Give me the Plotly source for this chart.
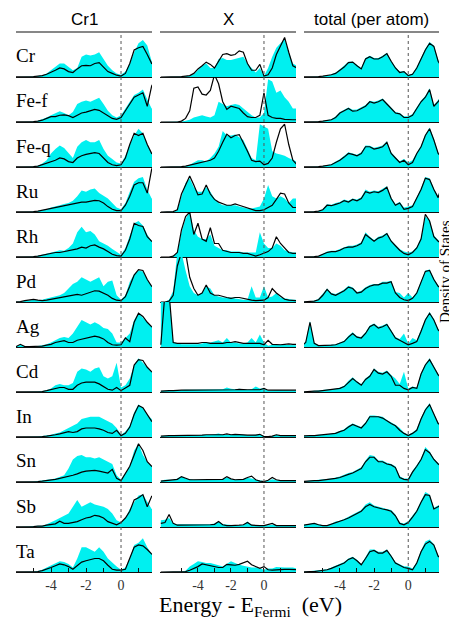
import plotly.graph_objects as go

# ---------------- data ----------------
energy = [-6.25, -6.0, -5.75, -5.5, -5.25, -5.0, -4.75, -4.5, -4.25, -4.0, -3.75, -3.5,
          -3.25, -3.0, -2.75, -2.5, -2.25, -2.0, -1.75, -1.5, -1.25, -1.0, -0.75, -0.5,
          -0.25, 0.0, 0.25, 0.5, 0.75, 1.0, 1.25, 1.5, 1.75, 2.0]

row_labels = ["Cr", "Fe-f", "Fe-q", "Ru", "Rh", "Pd", "Ag", "Cd", "In", "Sn", "Sb", "Ta"]
col_titles = ["Cr1", "X", "total (per atom)"]
tick_values = [-5, -4, -3, -2, -1, 0, 1]
tick_labels = ["", "-4", "", "-2", "", "0", ""]

# --- column Cr1 (cyan fill / black line) ---
cr1_fill_Cr = [0, 0,0,0,0, 0.01,0.02,0.04,0.08, 0.15,0.22,0.3,0.3, 0.22,0.15,0.2,0.45, 0.5,0.48,0.5,0.55, 0.4,0.25,0.15,0.08, 0.05,0.12,0.3,0.55, 0.75,0.82,0.7,0.35, 0.3]
cr1_line_Cr = [0, 0,0,0,0, 0.01,0.02,0.03,0.06, 0.1,0.15,0.2,0.18, 0.12,0.1,0.18,0.25, 0.26,0.25,0.3,0.32, 0.22,0.12,0.08,0.04, 0.02,0.08,0.3,0.6, 0.65,0.68,0.5,0.3, 0.25]
cr1_fill_Fef = [0, 0,0,0,0, 0.01,0.03,0.06,0.1, 0.15,0.2,0.24,0.2, 0.15,0.22,0.4,0.45, 0.48,0.45,0.5,0.54, 0.4,0.25,0.15,0.1, 0.15,0.3,0.45,0.6, 0.65,0.72,0.5,0.3, 0.3]
cr1_line_Fef = [0, 0,0,0,0, 0.01,0.02,0.04,0.08, 0.12,0.12,0.15,0.16, 0.14,0.1,0.15,0.2, 0.22,0.25,0.28,0.26, 0.2,0.15,0.08,0.06, 0.1,0.25,0.4,0.55, 0.6,0.65,0.35,0.8, 0.95]
cr1_fill_Feq = [0, 0,0,0,0, 0.01,0.03,0.08,0.15, 0.3,0.4,0.48,0.42, 0.3,0.2,0.45,0.55, 0.6,0.55,0.55,0.6, 0.4,0.25,0.18,0.1, 0.08,0.25,0.5,0.7, 0.85,0.75,0.5,0.3, 0.25]
cr1_line_Feq = [0, 0,0,0,0, 0.01,0.02,0.05,0.08, 0.12,0.15,0.2,0.18, 0.12,0.1,0.2,0.25, 0.28,0.3,0.32,0.3, 0.2,0.1,0.05,0.03, 0.05,0.2,0.5,0.75, 0.7,0.75,0.5,0.3, 0.25]
cr1_fill_Ru = [0, 0,0,0,0, 0.01,0.02,0.04,0.06, 0.1,0.12,0.15,0.18, 0.2,0.25,0.35,0.48, 0.45,0.5,0.52,0.42, 0.35,0.3,0.2,0.1, 0.06,0.2,0.45,0.67, 0.75,0.78,0.5,0.3, 0.3]
cr1_line_Ru = [0, 0,0,0,0, 0.01,0.02,0.04,0.06, 0.08,0.1,0.12,0.14, 0.15,0.18,0.2,0.22, 0.22,0.24,0.26,0.25, 0.2,0.12,0.06,0.03, 0.03,0.15,0.35,0.6, 0.65,0.65,0.42,0.95, 1.1]
cr1_fill_Rh = [0, 0,0,0,0, 0.01,0.03,0.05,0.07, 0.1,0.12,0.15,0.14, 0.2,0.3,0.55,0.67, 0.55,0.58,0.5,0.35, 0.3,0.25,0.18,0.12, 0.05,0.2,0.5,0.75, 0.8,0.7,0.5,0.35, 0.3]
cr1_line_Rh = [0, 0,0,0,0, 0.01,0.02,0.04,0.06, 0.08,0.1,0.1,0.12, 0.13,0.15,0.18,0.22, 0.2,0.25,0.27,0.22, 0.18,0.12,0.06,0.03, 0.02,0.15,0.4,0.75, 0.7,0.68,0.45,0.35, 0.3]
cr1_fill_Pd = [0, 0,0.01,0.02,0.04, 0.05,0.04,0.05,0.08, 0.1,0.12,0.15,0.2, 0.3,0.4,0.45,0.55, 0.5,0.45,0.5,0.55, 0.35,0.45,0.48,0.15, 0.05,0.15,0.45,0.62, 0.7,0.68,0.5,0.35, 0.3]
cr1_line_Pd = [0, 0,0.01,0.03,0.04, 0.06,0.04,0.03,0.04, 0.06,0.08,0.1,0.12, 0.14,0.15,0.17,0.15, 0.18,0.22,0.25,0.24, 0.2,0.15,0.08,0.04, 0.03,0.12,0.35,0.6, 0.72,0.7,0.5,0.35, 0.3]
cr1_fill_Ag = [0, 0.01,0.05,0.02,0.01, 0.01,0.02,0.04,0.06, 0.1,0.15,0.2,0.22, 0.2,0.3,0.45,0.6, 0.55,0.5,0.55,0.5, 0.42,0.4,0.3,0.1, 0.1,0.2,0.3,0.6, 0.75,0.65,0.55,0.45, 0.4]
cr1_line_Ag = [0, 0.01,0.06,0.01,0.01, 0.01,0.01,0.02,0.04, 0.06,0.1,0.12,0.14, 0.1,0.1,0.15,0.17, 0.2,0.22,0.24,0.22, 0.18,0.1,0.05,0.04, 0.05,0.2,0.12,0.55, 0.75,0.68,0.55,0.45, 0.4]
cr1_fill_Cd = [0, 0,0,0,0, 0.01,0.01,0.02,0.04, 0.08,0.15,0.18,0.15, 0.15,0.2,0.45,0.52, 0.5,0.45,0.52,0.55, 0.35,0.3,0.35,0.65, 0.1,0.15,0.3,0.6, 0.75,0.65,0.55,0.45, 0.4]
cr1_line_Cd = [0, 0,0,0,0, 0.01,0.01,0.01,0.03, 0.05,0.08,0.1,0.1, 0.06,0.06,0.15,0.2, 0.22,0.22,0.22,0.18, 0.12,0.06,0.04,0.1, 0.03,0.1,0.15,0.6, 0.72,0.7,0.55,0.45, 0.4]
cr1_fill_In = [0, 0,0,0,0, 0.01,0.01,0.02,0.03, 0.05,0.08,0.1,0.15, 0.2,0.25,0.3,0.4, 0.42,0.45,0.45,0.45, 0.4,0.35,0.3,0.2, 0.05,0.12,0.25,0.55, 0.72,0.65,0.5,0.4, 0.35]
cr1_line_In = [0, 0,0,0,0, 0.01,0.01,0.01,0.02, 0.03,0.05,0.07,0.1, 0.12,0.1,0.12,0.18, 0.2,0.2,0.2,0.18, 0.15,0.1,0.08,0.15, 0.03,0.08,0.22,0.5, 0.7,0.65,0.5,0.35, 0.3]
cr1_fill_Sn = [0, 0,0,0,0, 0.01,0.02,0.03,0.05, 0.06,0.08,0.12,0.15, 0.3,0.5,0.58,0.6, 0.55,0.55,0.52,0.55, 0.5,0.45,0.4,0.15, 0.05,0.2,0.35,0.7, 0.85,0.6,0.45,0.35, 0.3]
cr1_line_Sn = [0, 0,0,0,0, 0.01,0.01,0.02,0.03, 0.05,0.06,0.08,0.1, 0.12,0.15,0.18,0.22, 0.24,0.25,0.26,0.24, 0.22,0.2,0.28,0.08, 0.03,0.2,0.35,0.6, 0.85,0.7,0.45,0.35, 0.3]
cr1_fill_Sb = [0, 0,0,0.01,0.01, 0.02,0.03,0.03,0.06, 0.1,0.15,0.2,0.25, 0.3,0.45,0.6,0.45, 0.5,0.55,0.5,0.48, 0.45,0.4,0.3,0.15, 0.1,0.2,0.4,0.55, 0.7,0.72,0.55,0.4, 0.4]
cr1_line_Sb = [0, 0,0,0.01,0.01, 0.01,0.02,0.02,0.04, 0.05,0.07,0.13,0.08, 0.08,0.1,0.12,0.16, 0.2,0.22,0.26,0.24, 0.2,0.12,0.08,0.05, 0.1,0.2,0.35,0.6, 0.65,0.72,0.45,0.68, 0.75]
cr1_fill_Ta = [0, 0,0,0,0, 0.01,0.02,0.05,0.1, 0.15,0.2,0.24,0.22, 0.18,0.1,0.3,0.55, 0.55,0.5,0.45,0.55, 0.45,0.3,0.2,0.12, 0.05,0.1,0.3,0.6, 0.65,0.75,0.55,0.4, 0.35]
cr1_line_Ta = [0, 0,0,0,0, 0.01,0.01,0.03,0.06, 0.1,0.14,0.18,0.16, 0.12,0.06,0.15,0.22, 0.25,0.28,0.3,0.3, 0.25,0.15,0.06,0.04, 0.04,0.06,0.3,0.55, 0.6,0.58,0.5,0.4, 0.35]

# --- column X ---
x_fill_Cr = [0, 0,0,0,0, 0.01,0.02,0.03,0.06, 0.15,0.25,0.3,0.2, 0.2,0.4,0.42,0.38, 0.38,0.4,0.42,0.45, 0.3,0.2,0.1,0.2, 0.02,0.2,0.45,0.65, 0.75,0.85,0.55,0.3, 0.25]
x_line_Cr = [0, 0,0,0,0, 0.01,0.02,0.03,0.08, 0.18,0.25,0.33,0.28, 0.2,0.35,0.5,0.52, 0.48,0.5,0.58,0.55, 0.3,0.15,0.15,0.28, 0.02,0.05,0.2,0.5, 0.7,0.88,0.55,0.25, 0.2]
x_fill_Fef = [0, 0,0,0,0, 0.01,0.03,0.05,0.1, 0.13,0.15,0.12,0.1, 0.15,0.45,0.4,0.35, 0.38,0.4,0.38,0.3, 0.22,0.15,0.1,0.1, 0.2,0.95,0.9,0.65, 0.7,0.55,0.45,0.3, 0.3]
x_line_Fef = [0, 0,0,0,0, 0.02,0.08,0.25,0.75, 0.78,0.62,0.6,0.7, 1.05,0.85,0.45,0.28, 0.35,0.33,0.3,0.2, 0.12,0.1,0.1,0.15, 0.65,0.15,0.1,0.08, 0.08,0.06,0.05,0.05, 0.05]
x_fill_Feq = [0, 0,0,0,0, 0.01,0.02,0.05,0.1, 0.15,0.15,0.12,0.2, 0.3,0.45,0.8,0.7, 0.7,0.72,0.65,0.6, 0.4,0.2,0.15,0.95, 0.9,0.85,0.35,0.3, 0.28,0.25,0.2,0.15, 0.12]
x_line_Feq = [0, 0,0,0,0, 0.01,0.02,0.04,0.06, 0.08,0.1,0.12,0.15, 0.2,0.35,0.55,0.73, 0.65,0.7,0.72,0.55, 0.35,0.15,0.12,0.13, 0.05,0.08,0.2,0.55, 0.85,0.95,0.5,0.15, 0.05]
x_fill_Ru = [0, 0,0,0.01,0.04, 0.35,0.65,0.75,0.55, 0.45,0.45,0.55,0.45, 0.3,0.2,0.15,0.15, 0.15,0.15,0.12,0.1, 0.08,0.08,0.1,0.12, 0.3,0.6,0.35,0.3, 0.35,0.3,0.2,0.3, 0.3]
x_line_Ru = [0, 0,0,0.01,0.05, 0.4,0.6,0.8,0.6, 0.38,0.4,0.6,0.4, 0.28,0.22,0.18,0.15, 0.15,0.18,0.15,0.12, 0.1,0.06,0.03,0.03, 0.05,0.1,0.15,0.28, 0.42,0.4,0.2,0.1, 0.1]
x_fill_Rh = [0, 0,0,0.02,0.1, 0.55,0.85,1.0,0.6, 0.45,0.4,0.4,0.5, 0.25,0.2,0.15,0.15, 0.12,0.12,0.12,0.1, 0.1,0.1,0.1,0.55, 0.3,0.2,0.2,0.3, 0.25,0.15,0.12,0.1, 0.1]
x_line_Rh = [0, 0,0,0.02,0.1, 0.6,0.9,1.0,0.5, 0.75,0.4,0.35,0.65, 0.3,0.3,0.15,0.12, 0.1,0.1,0.1,0.08, 0.08,0.05,0.02,0.05, 0.08,0.12,0.2,0.45, 0.3,0.2,0.1,0.08, 0.08]
x_fill_Pd = [0, 0,0.05,0.25,1.1, 1.1,0.7,0.35,0.2, 0.15,0.2,0.35,0.3, 0.15,0.12,0.1,0.1, 0.1,0.08,0.06,0.05, 0.05,0.35,0.1,0.1, 0.35,0.1,0.12,0.2, 0.1,0.08,0.06,0.05, 0.05]
x_line_Pd = [0, 0,0.02,0.15,0.8, 1.1,1.1,0.55,0.3, 0.15,0.2,0.38,0.2, 0.15,0.15,0.12,0.1, 0.08,0.1,0.1,0.08, 0.05,0.04,0.03,0.03, 0.04,0.1,0.3,0.2, 0.12,0.06,0.04,0.03, 0.03]
x_fill_Ag = [1.2,1.2,1.2,0.12,0.08,0.06,0.06,0.05,0.05,0.06,0.08,0.1,0.1,0.12,0.15,0.1,0.2,0.1,0.1,0.08,0.08,0.1,0.2,0.1,0.28,0.1,0.03,0.05,0.06,0.05,0.05,0.05,0.04,0.04]
x_line_Ag = [0.05,1.2,1.2,0.1,0.08,0.08,0.08,0.08,0.08,0.08,0.1,0.1,0.08,0.08,0.08,0.08,0.1,0.1,0.12,0.1,0.08,0.08,0.08,0.08,0.08,0.05,0.15,0.06,0.05,0.05,0.06,0.07,0.06,0.06]
x_fill_Cd = [0.02,0.03,0.03,0.04,0.04,0.05,0.05,0.05,0.05,0.06,0.06,0.05,0.05,0.05,0.06,0.06,0.1,0.07,0.06,0.07,0.06,0.05,0.06,0.12,0.08,0.08,0.03,0.04,0.04,0.04,0.04,0.04,0.03,0.03]
x_line_Cd = [0.02,0.03,0.03,0.03,0.04,0.04,0.04,0.04,0.04,0.05,0.05,0.05,0.04,0.04,0.04,0.05,0.05,0.05,0.05,0.06,0.05,0.05,0.05,0.05,0.05,0.08,0.04,0.04,0.04,0.04,0.04,0.04,0.04,0.04]
x_fill_In = [0.02,0.03,0.03,0.03,0.04,0.04,0.04,0.04,0.04,0.04,0.05,0.05,0.05,0.06,0.08,0.05,0.05,0.05,0.06,0.05,0.05,0.04,0.04,0.05,0.06,0.02,0.02,0.02,0.05,0.03,0.03,0.03,0.03,0.03]
x_line_In = [0.02,0.03,0.03,0.03,0.03,0.04,0.04,0.04,0.04,0.04,0.04,0.05,0.05,0.05,0.05,0.05,0.07,0.05,0.06,0.05,0.04,0.04,0.04,0.04,0.06,0.01,0.01,0.02,0.05,0.03,0.03,0.03,0.03,0.03]
x_fill_Sn = [0.03,0.05,0.05,0.05,0.08,0.12,0.08,0.06,0.05,0.05,0.05,0.05,0.06,0.05,0.05,0.06,0.1,0.06,0.05,0.05,0.06,0.09,0.08,0.05,0.04,0.02,0.03,0.06,0.04,0.03,0.03,0.03,0.03,0.03]
x_line_Sn = [0.02,0.03,0.03,0.04,0.06,0.12,0.08,0.05,0.05,0.05,0.05,0.06,0.06,0.06,0.05,0.06,0.12,0.07,0.05,0.05,0.06,0.1,0.13,0.05,0.02,0.01,0.04,0.1,0.05,0.03,0.03,0.03,0.03,0.03]
x_fill_Sb = [0.15,0.16,0.2,0.08,0.06,0.06,0.06,0.06,0.06,0.05,0.05,0.05,0.06,0.08,0.13,0.06,0.05,0.05,0.04,0.04,0.05,0.12,0.05,0.04,0.04,0.03,0.04,0.05,0.04,0.04,0.04,0.04,0.04,0.04]
x_line_Sb = [0.08,0.1,0.28,0.08,0.04,0.04,0.04,0.04,0.04,0.04,0.04,0.04,0.05,0.06,0.12,0.05,0.03,0.03,0.03,0.04,0.05,0.1,0.04,0.03,0.03,0.03,0.05,0.08,0.03,0.03,0.03,0.03,0.03,0.03]
x_fill_Ta = [0,0,0,0,0,0.01,0.03,0.12,0.18,0.24,0.22,0.2,0.2,0.18,0.15,0.12,0.18,0.24,0.2,0.16,0.14,0.12,0.1,0.1,0.08,0.05,0.08,0.08,0.11,0.1,0.1,0.1,0.1,0.08]
x_line_Ta = [0,0,0,0,0,0,0.01,0.04,0.08,0.12,0.18,0.16,0.14,0.12,0.1,0.1,0.17,0.16,0.15,0.17,0.2,0.24,0.16,0.12,0.08,0.12,0.05,0.04,0.05,0.06,0.06,0.06,0.05,0.05]

# --- column total (per atom) ---
tot_fill_Cr = [0,0,0,0.01,0.01,0.02,0.03,0.06,0.1,0.17,0.25,0.34,0.34,0.26,0.2,0.42,0.47,0.42,0.42,0.47,0.54,0.36,0.22,0.12,0.13,0.05,0.08,0.22,0.43,0.63,0.78,0.7,0.37,0.22]
tot_line_Cr = [0,0,0,0.01,0.01,0.02,0.03,0.05,0.08,0.15,0.22,0.32,0.33,0.25,0.18,0.4,0.45,0.4,0.4,0.45,0.52,0.35,0.2,0.1,0.12,0.03,0.06,0.2,0.4,0.6,0.75,0.68,0.35,0.2]
tot_fill_Fef = [0,0,0,0.01,0.01,0.02,0.04,0.06,0.12,0.22,0.27,0.32,0.27,0.28,0.33,0.38,0.47,0.45,0.48,0.52,0.42,0.32,0.22,0.2,0.13,0.13,0.18,0.33,0.48,0.58,0.75,0.38,0.48,0.6]
tot_line_Fef = [0,0,0,0.01,0.01,0.02,0.03,0.05,0.1,0.2,0.25,0.3,0.24,0.25,0.3,0.35,0.45,0.42,0.45,0.5,0.4,0.3,0.2,0.18,0.1,0.1,0.15,0.3,0.45,0.55,0.72,0.35,0.45,0.6]
tot_fill_Feq = [0,0,0,0.01,0.01,0.02,0.04,0.06,0.12,0.17,0.25,0.33,0.3,0.27,0.33,0.48,0.47,0.43,0.45,0.48,0.57,0.33,0.22,0.13,0.18,0.1,0.15,0.33,0.48,0.72,0.88,0.62,0.33,0.22]
tot_line_Feq = [0,0,0,0.01,0.01,0.02,0.03,0.05,0.1,0.15,0.22,0.3,0.28,0.25,0.3,0.45,0.45,0.4,0.42,0.45,0.55,0.3,0.2,0.1,0.15,0.05,0.1,0.3,0.45,0.7,0.85,0.6,0.3,0.2]
tot_fill_Ru = [0,0,0,0.01,0.02,0.06,0.17,0.16,0.2,0.22,0.28,0.25,0.3,0.28,0.33,0.5,0.45,0.48,0.46,0.52,0.57,0.32,0.18,0.22,0.1,0.12,0.15,0.33,0.53,0.78,0.75,0.52,0.35,0.65]
tot_line_Ru = [0,0,0,0.01,0.02,0.05,0.15,0.14,0.17,0.2,0.25,0.22,0.28,0.25,0.3,0.45,0.42,0.45,0.43,0.48,0.55,0.3,0.15,0.2,0.06,0.08,0.12,0.3,0.5,0.75,0.72,0.5,0.32,0.65]
tot_fill_Rh = [0,0,0,0.01,0.02,0.07,0.12,0.14,0.14,0.18,0.22,0.25,0.25,0.28,0.33,0.55,0.45,0.38,0.45,0.48,0.54,0.37,0.27,0.18,0.12,0.1,0.12,0.22,0.43,0.9,0.82,0.48,0.38,0.32]
tot_line_Rh = [0,0,0,0.01,0.02,0.06,0.1,0.12,0.12,0.15,0.2,0.22,0.22,0.25,0.3,0.5,0.42,0.35,0.42,0.45,0.52,0.35,0.25,0.15,0.08,0.05,0.1,0.2,0.4,0.95,0.8,0.45,0.35,0.3]
tot_fill_Pd = [0,0.01,0.01,0.03,0.07,0.18,0.3,0.2,0.18,0.22,0.28,0.36,0.32,0.22,0.25,0.33,0.38,0.4,0.4,0.45,0.45,0.47,0.22,0.2,0.1,0.2,0.1,0.22,0.48,0.7,0.72,0.52,0.37,0.32]
tot_line_Pd = [0,0.01,0.01,0.02,0.05,0.15,0.28,0.18,0.15,0.2,0.25,0.33,0.3,0.2,0.22,0.3,0.35,0.38,0.38,0.42,0.42,0.45,0.2,0.1,0.05,0.03,0.08,0.2,0.45,0.68,0.7,0.5,0.35,0.3]
tot_fill_Ag = [0.03,0.12,0.58,0.1,0.04,0.04,0.04,0.05,0.06,0.1,0.14,0.25,0.33,0.24,0.22,0.33,0.48,0.52,0.45,0.48,0.52,0.38,0.22,0.18,0.3,0.08,0.2,0.15,0.38,0.62,0.78,0.62,0.4,0.32]
tot_line_Ag = [0.02,0.1,0.55,0.08,0.03,0.03,0.03,0.04,0.05,0.08,0.12,0.22,0.3,0.22,0.2,0.3,0.45,0.5,0.42,0.45,0.5,0.35,0.2,0.15,0.1,0.05,0.08,0.12,0.35,0.6,0.75,0.6,0.38,0.3]
tot_fill_Cd = [0,0.01,0.01,0.02,0.03,0.04,0.05,0.06,0.07,0.1,0.14,0.25,0.33,0.24,0.18,0.3,0.38,0.52,0.45,0.43,0.48,0.38,0.3,0.18,0.45,0.08,0.12,0.1,0.42,0.62,0.75,0.58,0.4,0.32]
tot_line_Cd = [0,0.01,0.01,0.02,0.02,0.03,0.04,0.05,0.06,0.08,0.12,0.22,0.3,0.22,0.15,0.28,0.35,0.5,0.42,0.4,0.45,0.35,0.15,0.15,0.08,0.05,0.1,0.08,0.4,0.6,0.72,0.55,0.38,0.3]
tot_fill_In = [0.02,0.03,0.03,0.04,0.05,0.05,0.06,0.07,0.1,0.14,0.17,0.25,0.3,0.26,0.22,0.33,0.48,0.48,0.47,0.45,0.38,0.33,0.27,0.2,0.1,0.05,0.1,0.18,0.43,0.63,0.75,0.52,0.32,0.27]
tot_line_In = [0.02,0.03,0.03,0.03,0.04,0.04,0.05,0.06,0.08,0.12,0.15,0.22,0.28,0.24,0.2,0.3,0.45,0.45,0.45,0.42,0.35,0.3,0.25,0.15,0.08,0.03,0.08,0.15,0.4,0.6,0.72,0.5,0.3,0.25]
tot_fill_Sn = [0.01,0.02,0.03,0.03,0.04,0.05,0.06,0.08,0.1,0.12,0.16,0.2,0.22,0.28,0.33,0.48,0.6,0.58,0.48,0.48,0.43,0.4,0.35,0.13,0.08,0.08,0.25,0.38,0.52,0.78,0.68,0.52,0.42,0.37]
tot_line_Sn = [0.01,0.02,0.02,0.03,0.03,0.04,0.05,0.07,0.08,0.1,0.14,0.17,0.2,0.25,0.3,0.45,0.55,0.55,0.45,0.45,0.4,0.38,0.32,0.1,0.06,0.05,0.22,0.35,0.5,0.72,0.65,0.5,0.4,0.35]
tot_fill_Sb = [0.04,0.06,0.07,0.09,0.06,0.04,0.04,0.07,0.12,0.14,0.18,0.23,0.28,0.33,0.38,0.5,0.55,0.48,0.45,0.43,0.4,0.38,0.28,0.1,0.08,0.13,0.25,0.38,0.58,0.78,0.72,0.43,0.48,0.52]
tot_line_Sb = [0.03,0.05,0.06,0.08,0.05,0.03,0.03,0.06,0.1,0.12,0.16,0.2,0.25,0.3,0.35,0.45,0.5,0.45,0.42,0.4,0.38,0.35,0.25,0.08,0.05,0.1,0.22,0.35,0.55,0.72,0.7,0.4,0.45,0.5]
tot_fill_Ta = [0,0.01,0.01,0.02,0.03,0.04,0.06,0.1,0.14,0.18,0.22,0.3,0.34,0.27,0.18,0.33,0.5,0.5,0.45,0.45,0.5,0.37,0.22,0.17,0.13,0.12,0.08,0.22,0.48,0.68,0.72,0.62,0.37,0.32]
tot_line_Ta = [0,0.01,0.01,0.01,0.02,0.03,0.05,0.08,0.12,0.16,0.2,0.28,0.32,0.25,0.16,0.3,0.45,0.48,0.42,0.42,0.48,0.35,0.2,0.15,0.1,0.08,0.05,0.2,0.45,0.62,0.68,0.6,0.35,0.3]

# table built from the named arrays: [column][row] -> (fill, line)
panel_table = [
    [(cr1_fill_Cr, cr1_line_Cr), (cr1_fill_Fef, cr1_line_Fef), (cr1_fill_Feq, cr1_line_Feq),
     (cr1_fill_Ru, cr1_line_Ru), (cr1_fill_Rh, cr1_line_Rh), (cr1_fill_Pd, cr1_line_Pd),
     (cr1_fill_Ag, cr1_line_Ag), (cr1_fill_Cd, cr1_line_Cd), (cr1_fill_In, cr1_line_In),
     (cr1_fill_Sn, cr1_line_Sn), (cr1_fill_Sb, cr1_line_Sb), (cr1_fill_Ta, cr1_line_Ta)],
    [(x_fill_Cr, x_line_Cr), (x_fill_Fef, x_line_Fef), (x_fill_Feq, x_line_Feq),
     (x_fill_Ru, x_line_Ru), (x_fill_Rh, x_line_Rh), (x_fill_Pd, x_line_Pd),
     (x_fill_Ag, x_line_Ag), (x_fill_Cd, x_line_Cd), (x_fill_In, x_line_In),
     (x_fill_Sn, x_line_Sn), (x_fill_Sb, x_line_Sb), (x_fill_Ta, x_line_Ta)],
    [(tot_fill_Cr, tot_line_Cr), (tot_fill_Fef, tot_line_Fef), (tot_fill_Feq, tot_line_Feq),
     (tot_fill_Ru, tot_line_Ru), (tot_fill_Rh, tot_line_Rh), (tot_fill_Pd, tot_line_Pd),
     (tot_fill_Ag, tot_line_Ag), (tot_fill_Cd, tot_line_Cd), (tot_fill_In, tot_line_In),
     (tot_fill_Sn, tot_line_Sn), (tot_fill_Sb, tot_line_Sb), (tot_fill_Ta, tot_line_Ta)],
]

# ---------------- layout / styling ----------------
# Target positions are in window pixels; the page body adds an 8 px margin,
# so the figure is drawn 8 px smaller and all positions are shifted by it.
WIN_W, WIN_H = 457, 627
OFF = 8
W, H = WIN_W - OFF, WIN_H - OFF
COL_PX = [(16, 152), (160, 296), (304, 439)]
COL_RANGE = [[-6.0, 1.77], [-6.3, 1.94], [-6.1, 1.8]]
TOP_PX, ROW_H = 32, 45
CYAN = "#00f0f0"
SERIF = "Liberation Serif, Times New Roman, serif"
SANS = "Liberation Sans, Arial, sans-serif"

def px_x(p):
    return (p - OFF) / W

def px_y(p):
    return 1 - (p - OFF) / H

fig = go.Figure()
layout = {}
shapes = []
annotations = []
n_rows = len(row_labels)

for c in range(3):
    for r in range(n_rows):
        n = c * n_rows + r + 1
        xs = "x" if n == 1 else f"x{n}"
        ys = "y" if n == 1 else f"y{n}"
        xa = "xaxis" if n == 1 else f"xaxis{n}"
        ya = "yaxis" if n == 1 else f"yaxis{n}"
        fill_vals, line_vals = panel_table[c][r]
        fig.add_trace(go.Scatter(x=energy, y=fill_vals, xaxis=xs, yaxis=ys, mode="lines",
                                 line=dict(width=0, color=CYAN), fill="tozeroy",
                                 fillcolor=CYAN, hoverinfo="skip", showlegend=False))
        fig.add_trace(go.Scatter(x=energy, y=line_vals, xaxis=xs, yaxis=ys, mode="lines",
                                 line=dict(width=1.2, color="black"),
                                 hoverinfo="skip", showlegend=False))
        top = TOP_PX + r * ROW_H
        bot = top + ROW_H
        bottom_row = (r == n_rows - 1)
        layout[xa] = dict(domain=[px_x(COL_PX[c][0]), px_x(COL_PX[c][1])], anchor=ys,
                          range=COL_RANGE[c], showgrid=False, zeroline=False,
                          showline=True, linecolor="#111", linewidth=1.3,
                          ticks="inside" if bottom_row else "", ticklen=4, tickwidth=1,
                          tickcolor="#111", tickvals=tick_values, ticktext=tick_labels,
                          showticklabels=bottom_row,
                          tickfont=dict(family=SERIF, size=14, color="#333"),
                          fixedrange=True)
        layout[ya] = dict(domain=[px_y(bot), px_y(top)], anchor=xs, range=[0, 1],
                          visible=False, fixedrange=True)
        if c == 0:
            annotations.append(dict(text=row_labels[r], xref="paper", yref="paper",
                                    x=px_x(14), y=px_y(top + 24), xanchor="left",
                                    yanchor="middle", showarrow=False,
                                    font=dict(family=SERIF, size=19, color="black")))
    # column title and top rule
    annotations.append(dict(text=col_titles[c], xref="paper", yref="paper",
                            x=px_x((COL_PX[c][0] + COL_PX[c][1]) / 2), y=px_y(20),
                            xanchor="center", yanchor="middle", showarrow=False,
                            font=dict(family=SANS, size=17, color="black")))
    shapes.append(dict(type="line", xref="paper", yref="paper",
                       x0=px_x(COL_PX[c][0]), x1=px_x(COL_PX[c][1]),
                       y0=px_y(TOP_PX), y1=px_y(TOP_PX), line=dict(color="#111", width=1.2)))
    # Fermi level dotted line
    nb = c * n_rows + n_rows
    shapes.append(dict(type="line", xref=f"x{nb}", yref="paper", x0=0, x1=0,
                       y0=px_y(TOP_PX + n_rows * ROW_H), y1=px_y(TOP_PX),
                       line=dict(color="#555", width=1, dash="dot")))

annotations.append(dict(text="Energy\u00a0-\u00a0E<sub>Fermi</sub>\u00a0\u00a0(eV)",
                        xref="paper", yref="paper", x=px_x(250), y=px_y(606),
                        xanchor="center", yanchor="middle", showarrow=False,
                        font=dict(family=SERIF, size=22, color="black")))
annotations.append(dict(text="Density of States", xref="paper", yref="paper",
                        x=px_x(445), y=px_y(272), xanchor="center", yanchor="middle",
                        textangle=-90, showarrow=False,
                        font=dict(family=SERIF, size=15, color="black")))

fig.update_layout(width=W, height=H, autosize=False,
                  margin=dict(l=0, r=0, t=0, b=0),
                  paper_bgcolor="white", plot_bgcolor="white",
                  shapes=shapes, annotations=annotations, showlegend=False,
                  **layout)

fig.write_html("out.html")
